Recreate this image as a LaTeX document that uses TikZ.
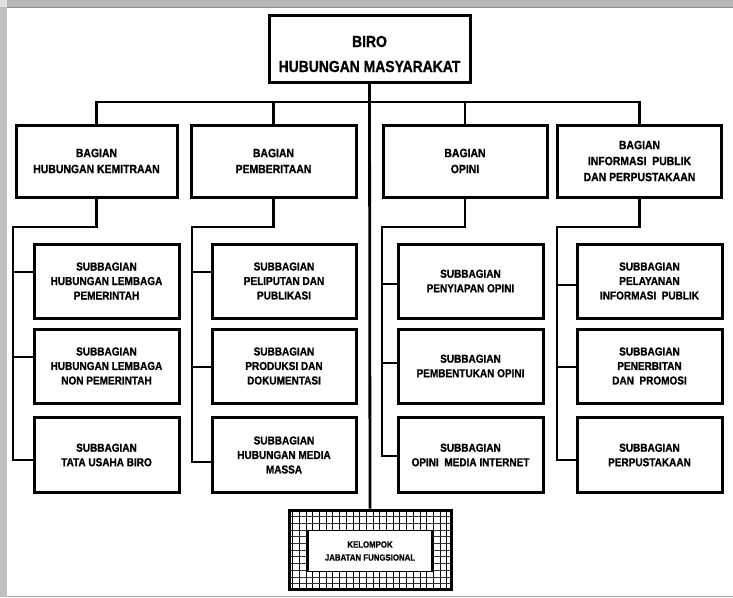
\documentclass[tikz,border=0pt]{standalone}
\usepackage{fontspec}
\setmainfont{Liberation Sans}[FakeStretch=0.87, BoldFeatures={FakeBold=0.9}]
\begin{document}
\begin{tikzpicture}[x=1pt,y=-1pt,
  boxbase/.style={draw, line width=3pt, align=center, inner sep=0pt, fill=white},
  topbox/.style={boxbase, minimum width=201pt, minimum height=67pt},
  toptext/.style={align=center, inner sep=0pt, font=\bfseries\fontsize{16}{25}\selectfont},
  bag/.style={boxbase, minimum height=72pt, font=\bfseries\fontsize{12}{16}\selectfont},
  sub/.style={boxbase, minimum height=74pt, minimum width=145pt, font=\bfseries\fontsize{11.5}{14.5}\selectfont},
  conn/.style={line width=2.8pt, line join=miter},
]
\useasboundingbox (0,0) rectangle (733,597);
\fill[white] (0,0) rectangle (733,597);
% frame
\fill[black!28] (0,0) rectangle (733,7);
\fill[black!25] (0,0) rectangle (7,597);
\fill[black!12] (0,0) rectangle (7,7);
\draw[black!45, line width=0.8pt] (7,7) -- (733,7);
\draw[black!35, line width=1pt] (7,596) -- (733,596);

% top
\node[topbox] (top) at (369.5,48.5) {};
\node[toptext] (toptxt) at (369.5,54) {BIRO\\HUBUNGAN MASYARAKAT};

% bagian
\node[bag, minimum width=161pt] (b1) at (96.5,161) {BAGIAN\\HUBUNGAN KEMITRAAN};
\node[bag, minimum width=165pt] (b2) at (273.5,161) {BAGIAN\\PEMBERITAAN};
\node[bag, minimum width=164pt] (b3) at (465,161) {BAGIAN\\OPINI};
\node[bag, minimum width=164pt] (b4) at (639.5,161) {BAGIAN\\INFORMASI\ \ PUBLIK\\DAN PERPUSTAKAAN};

% subbagian col 1
\node[sub] (s11) at (106.5,281) {SUBBAGIAN\\HUBUNGAN LEMBAGA\\PEMERINTAH};
\node[sub] (s12) at (106.5,366) {SUBBAGIAN\\HUBUNGAN LEMBAGA\\NON PEMERINTAH};
\node[sub, minimum height=75pt] (s13) at (106.5,455) {SUBBAGIAN\\TATA USAHA BIRO};
% col 2
\node[sub, minimum width=144pt] (s21) at (284,281) {SUBBAGIAN\\PELIPUTAN DAN\\PUBLIKASI};
\node[sub, minimum width=144pt] (s22) at (284,366) {SUBBAGIAN\\PRODUKSI DAN\\DOKUMENTASI};
\node[sub, minimum width=144pt, minimum height=75pt] (s23) at (284,455) {SUBBAGIAN\\HUBUNGAN MEDIA\\MASSA};
% col 3
\node[sub] (s31) at (470.5,281) {SUBBAGIAN\\PENYIAPAN OPINI};
\node[sub] (s32) at (470.5,366) {SUBBAGIAN\\PEMBENTUKAN OPINI};
\node[sub, minimum height=75pt] (s33) at (470.5,455) {SUBBAGIAN\\OPINI\ \ MEDIA INTERNET};
% col 4
\node[sub] (s41) at (649.5,281) {SUBBAGIAN\\PELAYANAN\\INFORMASI\ \ PUBLIK};
\node[sub] (s42) at (649.5,366) {SUBBAGIAN\\PENERBITAN\\DAN\ \ PROMOSI};
\node[sub, minimum height=75pt] (s43) at (649.5,455) {SUBBAGIAN\\PERPUSTAKAAN};

% kelompok jabatan fungsional
\begin{scope}[even odd rule]
  \clip (289,510) rectangle (451,589) (308,530) rectangle (432,571);
  \foreach \xx in {292.5,299.2,...,451} \draw[line width=0.6pt] (\xx,508) -- (\xx,591);
  \foreach \yy in {516.5,523.2,...,590} \draw[line width=0.45pt, black!80] (287,\yy) -- (453,\yy);
\end{scope}
\node[draw, line width=3pt, minimum width=162pt, minimum height=79pt, inner sep=0pt] (kel) at (370,549.5) {};
\node[draw, line width=1.1pt, fill=white, minimum width=124pt, minimum height=41pt, inner sep=0pt, align=center,
      font=\bfseries\fontsize{9}{13}\selectfont] (kelin) at (370,551) {KELOMPOK\\JABATAN FUNGSIONAL};

% connectors
\coordinate (bus) at (369.5,102);
\draw[conn] (top.south) -- (kel.north);
\draw[conn] (b1.north) |- (bus) -| (b4.north);
\draw[conn] (b2.north) -- (b2.north |- bus);
\draw[conn] (b3.north) -- (b3.north |- bus);

% column 1
\coordinate (e1) at (13,227);
\coordinate (k11) at (13,272);
\coordinate (k12) at (13,357);
\coordinate (k13) at (13,460);
\draw[conn] (b1.south) |- (e1) -- (k13) -- (k13 -| s13.west);
\draw[conn] (k11) -- (k11 -| s11.west);
\draw[conn] (k12) -- (k12 -| s12.west);
% column 2
\coordinate (e2) at (192,227);
\coordinate (k21) at (192,272);
\coordinate (k22) at (192,367);
\coordinate (k23) at (192,462);
\draw[conn] (b2.south) |- (e2) -- (k23) -- (k23 -| s23.west);
\draw[conn] (k21) -- (k21 -| s21.west);
\draw[conn] (k22) -- (k22 -| s22.west);
% column 3
\coordinate (e3) at (382,227);
\coordinate (k31) at (382,284);
\coordinate (k32) at (382,363);
\coordinate (k33) at (382,456);
\draw[conn] (b3.south) |- (e3) -- (k33) -- (k33 -| s33.west);
\draw[conn] (k31) -- (k31 -| s31.west);
\draw[conn] (k32) -- (k32 -| s32.west);
% column 4
\coordinate (e4) at (557,227);
\coordinate (k41) at (557,285);
\coordinate (k42) at (557,367);
\coordinate (k43) at (557,460);
\draw[conn] (b4.south) |- (e4) -- (k43) -- (k43 -| s43.west);
\draw[conn] (k41) -- (k41 -| s41.west);
\draw[conn] (k42) -- (k42 -| s42.west);
\end{tikzpicture}
\end{document}
